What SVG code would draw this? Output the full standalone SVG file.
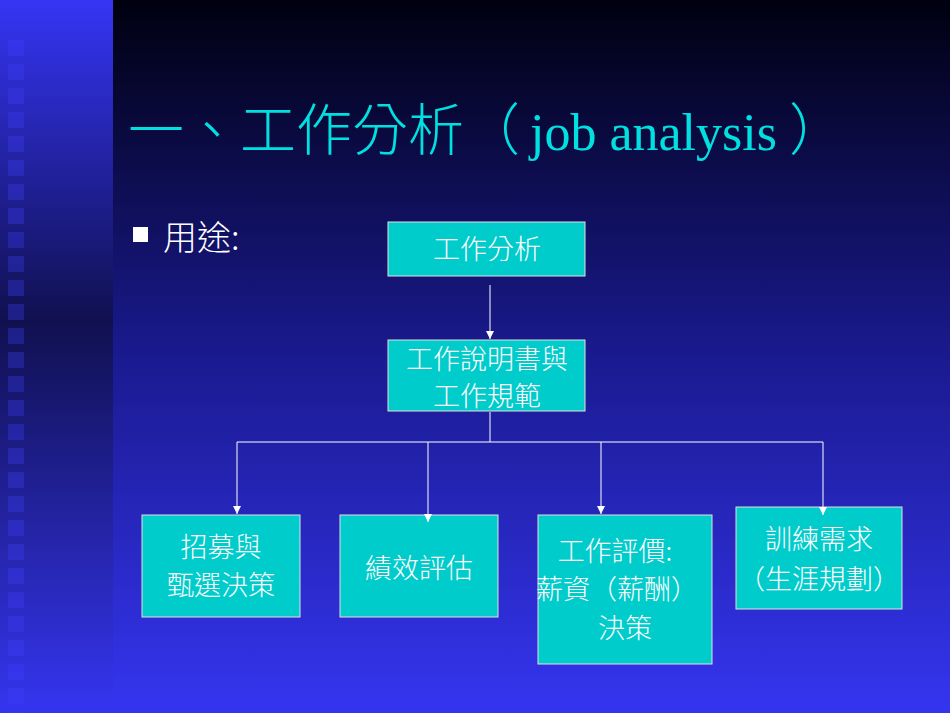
<svg xmlns="http://www.w3.org/2000/svg" width="950" height="713" viewBox="0 0 950 713">
<defs>
<linearGradient id="main" x1="0" y1="0" x2="0" y2="1"><stop offset="0" stop-color="#000010"/><stop offset="0.5" stop-color="#1a1a90"/><stop offset="1" stop-color="#3535f0"/></linearGradient>
<linearGradient id="strip" x1="0" y1="0" x2="0" y2="1"><stop offset="0" stop-color="#3535f5"/><stop offset="0.45" stop-color="#101050"/><stop offset="1" stop-color="#3535f0"/></linearGradient>
<marker id="ah" viewBox="0 0 10 10" refX="10" refY="5" markerWidth="8" markerHeight="8" orient="auto"><path d="M0,0 L10,5 L0,10 z" fill="#ffffff"/></marker>
<pattern id="sq" x="0" y="16" width="113" height="24" patternUnits="userSpaceOnUse"><rect x="8" y="0" width="16" height="16" fill="#4040ff" fill-opacity="0.3"/></pattern>
</defs>
<style>
.box{fill:#00cccc;stroke:#e0e0e0;stroke-width:1}
.t{font-family:"Noto Sans CJK TC","Liberation Serif",serif;font-size:27px;fill:#ffffff;font-weight:300;text-anchor:middle}
.ln{stroke:#ffffff;stroke-width:1;fill:none}
</style>
<rect width="950" height="713" fill="url(#main)"/>
<rect width="113" height="713" fill="url(#strip)"/>
<rect x="0" y="40" width="113" height="673" fill="url(#sq)"/>
<text x="128" y="150" font-family="'Noto Sans CJK TC',sans-serif" font-size="56" fill="#00e0e0" font-weight="300">一、工作分析（<tspan font-family="'Liberation Serif',serif" font-size="52" dx="10">job analysis</tspan><tspan dx="12">）</tspan></text>
<rect x="133" y="227" width="15" height="15" fill="#ffffff"/>
<text x="163" y="250" font-family="'Noto Sans CJK TC',sans-serif" font-size="34" fill="#ffffff" font-weight="300">用途:</text>
<g id="n1"><rect class="box" x="388" y="222" width="197" height="54"/><text class="t" x="487" y="259">工作分析</text></g>
<g id="n2"><rect class="box" x="388" y="340" width="197" height="71"/><text class="t" x="487" y="369" font-size="26">工作說明書與</text><text class="t" x="487" y="406" font-size="26">工作規範</text></g>
<g id="n3"><rect class="box" x="142" y="515" width="158" height="102"/><text class="t" x="221" y="557">招募與</text><text class="t" x="221" y="595">甄選決策</text></g>
<g id="n4"><rect class="box" x="340" y="515" width="158" height="102"/><text class="t" x="419" y="578">績效評估</text></g>
<g id="n5"><rect class="box" x="538" y="515" width="174" height="149"/><text class="t" x="615" y="561">工作評價:</text><text class="t" x="617" y="599">薪資（薪酬）</text><text class="t" x="625" y="638">決策</text></g>
<g id="n6"><rect class="box" x="736" y="507" width="166" height="102"/><text class="t" x="819" y="549">訓練需求</text><text class="t" x="819" y="589">（生涯規劃）</text></g>
<g id="connectors">
<line class="ln" x1="490" y1="285" x2="490" y2="339" marker-end="url(#ah)"/>
<polyline class="ln" points="490,412 490,442"/>
<line class="ln" x1="237" y1="442" x2="823" y2="442"/>
<line class="ln" x1="237" y1="442" x2="237" y2="514" marker-end="url(#ah)"/>
<line class="ln" x1="428" y1="442" x2="428" y2="522" marker-end="url(#ah)"/>
<line class="ln" x1="601" y1="442" x2="601" y2="514" marker-end="url(#ah)"/>
<line class="ln" x1="823" y1="442" x2="823" y2="515" marker-end="url(#ah)"/>
</g>
</svg>
